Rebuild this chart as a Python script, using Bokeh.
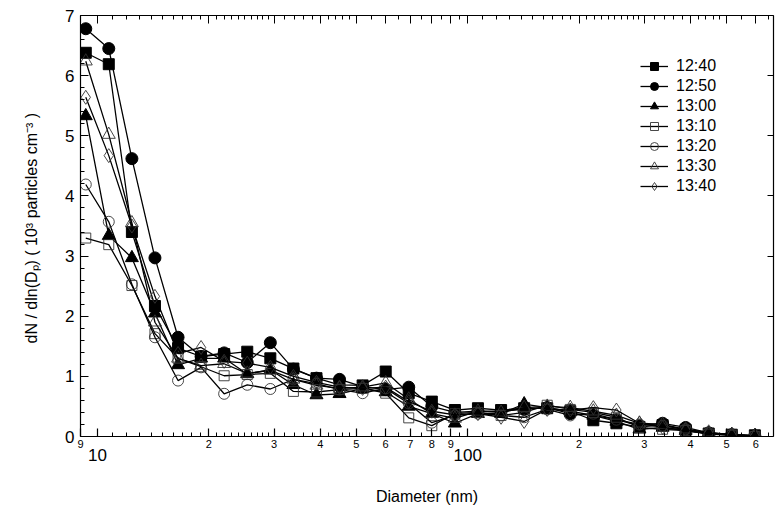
from bokeh.plotting import figure
from bokeh.models import (LogAxis, LinearAxis, FixedTicker, CustomJSTickFormatter,
                          SingleIntervalTicker)
from bokeh.embed import file_html
from bokeh.resources import INLINE

# ---------------- data ----------------
diameter = [9.30, 10.73, 12.39, 14.30, 16.51, 19.05, 21.99, 25.39, 29.31, 33.83,
            39.05, 45.07, 52.03, 60.06, 69.32, 80.02, 92.37, 106.6, 123.1, 142.1,
            164.0, 189.3, 218.5, 252.2, 291.1, 336.1, 387.9, 447.8, 516.9, 596.6]

s1240 = [6.38, 6.19, 3.40, 2.17, 1.47, 1.33, 1.37, 1.41, 1.30, 1.13,
         0.97, 0.86, 0.85, 1.08, 0.72, 0.58, 0.44, 0.47, 0.44, 0.47,
         0.47, 0.42, 0.27, 0.22, 0.16, 0.19, 0.11, 0.05, 0.03, 0.02]
s1250 = [6.78, 6.45, 4.62, 2.97, 1.65, 1.33, 1.39, 1.23, 1.56, 1.12,
         0.97, 0.95, 0.83, 0.78, 0.82, 0.50, 0.40, 0.42, 0.42, 0.45,
         0.48, 0.38, 0.35, 0.28, 0.18, 0.22, 0.15, 0.06, 0.03, 0.01]
s1300 = [5.33, 3.34, 2.97, 2.05, 1.19, 1.30, 1.30, 1.04, 1.11, 0.86,
         0.69, 0.71, 0.80, 0.74, 0.50, 0.38, 0.22, 0.38, 0.38, 0.54,
         0.48, 0.42, 0.35, 0.25, 0.12, 0.15, 0.10, 0.05, 0.03, 0.01]
s1310 = [3.30, 3.19, 2.51, 1.71, 1.30, 1.16, 1.01, 1.03, 1.05, 0.75,
         0.74, 0.78, 0.80, 0.72, 0.31, 0.18, 0.38, 0.40, 0.35, 0.40,
         0.52, 0.45, 0.40, 0.32, 0.15, 0.12, 0.10, 0.04, 0.02, 0.00]
s1320 = [4.19, 3.57, 2.53, 1.65, 0.93, 1.15, 0.71, 0.86, 0.79, 0.95,
         0.88, 0.78, 0.72, 0.80, 0.55, 0.23, 0.35, 0.38, 0.35, 0.32,
         0.45, 0.35, 0.38, 0.28, 0.20, 0.18, 0.12, 0.06, 0.03, 0.01]
s1330 = [6.24, 5.02, 3.55, 1.90, 1.30, 1.18, 1.21, 1.05, 1.10, 0.95,
         0.85, 0.80, 0.82, 0.89, 0.62, 0.38, 0.30, 0.42, 0.40, 0.48,
         0.50, 0.48, 0.42, 0.35, 0.22, 0.20, 0.12, 0.07, 0.03, 0.01]
s1340 = [5.64, 4.67, 3.50, 2.33, 1.38, 1.48, 1.25, 1.22, 1.15, 1.00,
         0.90, 0.82, 0.80, 0.82, 0.58, 0.42, 0.36, 0.38, 0.32, 0.25,
         0.45, 0.44, 0.48, 0.44, 0.22, 0.15, 0.10, 0.05, 0.02, 0.01]

series_labels = ["12:40", "12:50", "13:00", "13:10", "13:20", "13:30", "13:40"]
series_values = [s1240, s1250, s1300, s1310, s1320, s1330, s1340]

x_digit_ticks = [9, 20, 30, 40, 50, 60, 70, 80, 90, 200, 300, 400, 500, 600]
x_digit_labels = ["9", "2", "3", "4", "5", "6", "7", "8", "9", "2", "3", "4", "5", "6"]
x_decade_ticks = [10, 100]
x_decade_labels = ["10", "100"]
x_minor_ticks = ([11, 12, 13, 14, 15, 16, 17, 18, 19]
                 + [21, 22, 23, 24, 25, 26, 27, 28, 29]
                 + [32, 34, 36, 38, 42, 44, 46, 48, 55, 65, 75, 85, 95]
                 + [110, 120, 130, 140, 150, 160, 170, 180, 190]
                 + [210, 220, 230, 240, 250, 260, 270, 280, 290]
                 + [320, 340, 360, 380, 420, 440, 460, 480, 550, 650])

FONT = "Liberation Sans"

# marker styles: (marker, size, fill)
styles = [
    ("square", 11, "black"),
    ("circle", 12, "black"),
    ("triangle", 13, "black"),
    ("square", 10, None),
    ("circle", 11, None),
    ("triangle", 13, None),
    ("diamond", 14, None),
]

p = figure(width=777, height=510, x_axis_type="log", x_range=(9, 670), y_range=(0, 7),
           output_backend="svg", toolbar_location=None,
           min_border_left=80, min_border_right=4, min_border_top=15, min_border_bottom=74)
p.xgrid.visible = False
p.ygrid.visible = False
p.outline_line_color = None
p.background_fill_color = "white"
p.border_fill_color = "white"

for lab, vals, (mk, sz, fill) in zip(series_labels, series_values, styles):
    p.line(diameter, vals, line_color="black", line_width=1.3, legend_label=lab)
    p.scatter(diameter, vals, marker=mk, size=sz,
              fill_color=fill, line_color="black" if fill else "#333333",
              line_width=1.0 if fill else 0.9, legend_label=lab)

# ---- bottom axis with digit labels ----
xa = p.xaxis[0]
overrides = {t: l for t, l in zip(x_digit_ticks, x_digit_labels)}
for t in x_decade_ticks:
    overrides[t] = ""
xa.ticker = FixedTicker(ticks=x_digit_ticks + x_decade_ticks, minor_ticks=x_minor_ticks)
xa.major_label_overrides = overrides
xa.major_label_text_font = FONT
xa.major_label_text_font_size = "11px"
xa.major_label_text_color = "black"
xa.major_label_standoff = 3
xa.major_tick_in = 8
xa.major_tick_out = 0
xa.minor_tick_in = 4
xa.minor_tick_out = 0
xa.axis_line_width = 1.2
xa.major_tick_line_width = 1.2

# ---- second bottom axis with decade labels ----
xb = LogAxis(ticker=FixedTicker(ticks=x_decade_ticks, minor_ticks=[]),
             major_label_overrides={t: l for t, l in zip(x_decade_ticks, x_decade_labels)},
             axis_line_color=None, major_tick_in=0, major_tick_out=0,
             minor_tick_in=0, minor_tick_out=0,
             major_label_text_font=FONT, major_label_text_font_size="17px",
             major_label_text_color="black",
             major_label_standoff=-2,
             axis_label="Diameter (nm)", axis_label_text_font=FONT,
             axis_label_text_font_size="16px", axis_label_text_font_style="normal",
             axis_label_text_color="black",
             axis_label_standoff=24)
p.add_layout(xb, "below")

# ---- top mirror axis ----
xt = LogAxis(ticker=FixedTicker(ticks=x_digit_ticks + x_decade_ticks, minor_ticks=x_minor_ticks),
             formatter=CustomJSTickFormatter(code="return ''"),
             major_tick_in=8, major_tick_out=0, minor_tick_in=4, minor_tick_out=0,
             major_label_standoff=0, axis_line_width=1.2)
p.add_layout(xt, "above")

# ---- left axis ----
ya = p.yaxis[0]
ya.ticker = SingleIntervalTicker(interval=1, num_minor_ticks=5)
ya.major_label_text_font = FONT
ya.major_label_text_font_size = "17px"
ya.major_label_text_color = "black"
ya.major_label_standoff = 6
ya.major_tick_in = 8
ya.major_tick_out = 0
ya.minor_tick_in = 4
ya.minor_tick_out = 0
ya.axis_line_width = 1.2
ya.axis_label = "dN / dln(D\u209a)  ( 10\u00b3 particles cm\u207b\u00b3 )"
ya.axis_label_text_font = FONT
ya.axis_label_text_font_size = "16px"
ya.axis_label_text_font_style = "normal"
ya.axis_label_text_color = "black"
ya.axis_label_standoff = 22

# ---- right mirror axis ----
yr = LinearAxis(ticker=SingleIntervalTicker(interval=1, num_minor_ticks=0),
                formatter=CustomJSTickFormatter(code="return ''"),
                major_tick_in=6, major_tick_out=0, minor_tick_in=0, minor_tick_out=0,
                major_label_standoff=0, axis_line_width=1.2)
p.add_layout(yr, "right")

# ---- legend ----
lg = p.legend[0]
lg.location = (560, 240)
lg.label_text_font = FONT
lg.label_text_font_size = "16px"
lg.label_text_color = "black"
lg.glyph_width = 28
lg.glyph_height = 20
lg.label_height = 20
lg.label_standoff = 8
lg.spacing = 0
lg.padding = 0
lg.margin = 0
lg.border_line_color = None
lg.background_fill_alpha = 0

open("out.html", "w").write(file_html(p, INLINE))
